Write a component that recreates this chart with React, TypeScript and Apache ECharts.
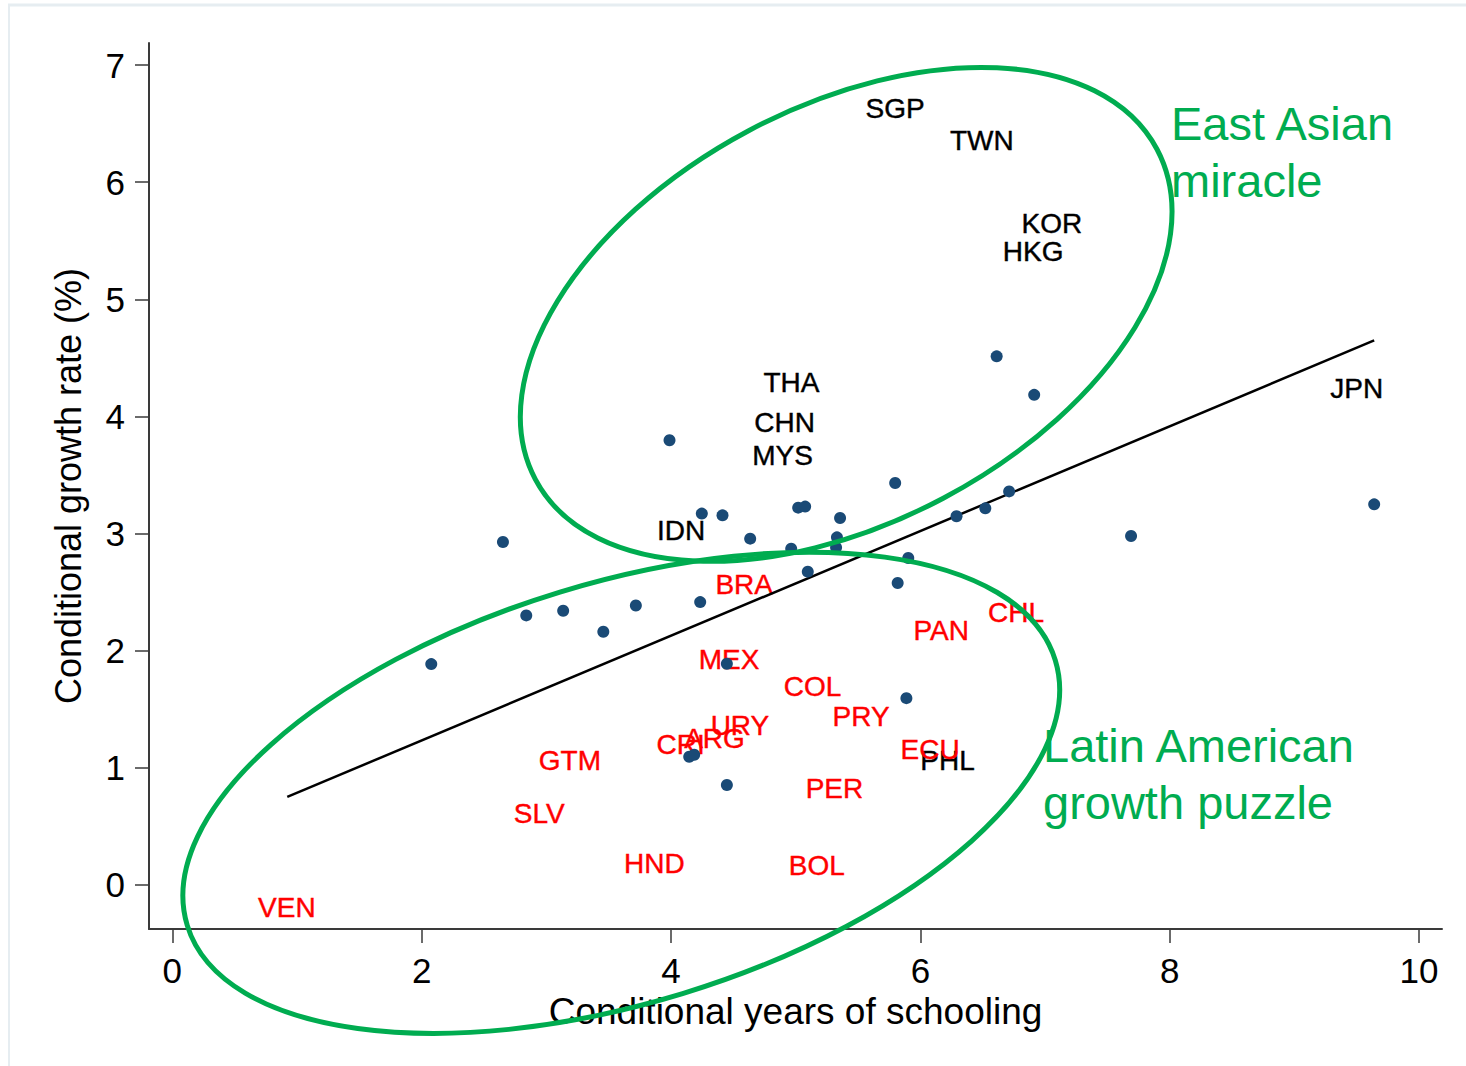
import React, { useEffect, useRef } from "react";
import * as echarts from "echarts";

// ---- tick labels ----
const xTicks = [0, 2, 4, 6, 8, 10];
const yTicks = [0, 1, 2, 3, 4, 5, 6, 7];

// ---- unlabelled country dots ----
const dotX = [2.077, 2.652, 2.839, 3.135, 3.457, 3.718, 3.988, 4.234, 4.247, 4.413, 4.635, 4.448, 4.146, 4.186, 4.448, 4.964, 5.02, 5.076, 5.097, 5.331, 5.324, 5.356, 5.798, 5.903, 5.818, 5.888, 6.29, 6.521, 6.712, 6.612, 6.913, 7.69, 9.64];
const dotY = [1.882, 2.926, 2.298, 2.338, 2.158, 2.383, 3.795, 2.412, 3.168, 3.153, 2.954, 1.885, 1.09, 1.107, 0.849, 2.868, 3.219, 3.228, 2.672, 2.965, 2.879, 3.131, 3.43, 2.789, 2.575, 1.591, 3.145, 3.213, 3.358, 4.512, 4.183, 2.977, 3.247];

// ---- black labels ----
const blackCodes = ["SGP", "TWN", "KOR", "HKG", "THA", "CHN", "MYS", "IDN", "JPN", "PHL"];
const blackX = [5.798, 6.493, 7.055, 6.905, 4.966, 4.911, 4.894, 4.08, 9.5, 6.218];
const blackY = [6.63, 6.356, 5.648, 5.409, 4.286, 3.946, 3.661, 3.02, 4.24, 1.061];

// ---- red labels (Latin America) ----
const redCodes = ["BRA", "PAN", "CHL", "MEX", "COL", "PRY", "URY", "ARG", "CRI", "ECU", "GTM", "PER", "SLV", "HND", "BOL", "VEN"];
const redX = [4.587, 6.167, 6.768, 4.466, 5.135, 5.525, 4.553, 4.349, 4.077, 6.078, 3.189, 5.311, 2.943, 3.866, 5.17, 0.919];
const redY = [2.563, 2.173, 2.327, 1.921, 1.694, 1.434, 1.36, 1.243, 1.194, 1.155, 1.055, 0.815, 0.601, 0.174, 0.159, -0.194];

// ---- fitted line ----
const fitX = [0.922, 9.64];
const fitY = [0.747, 4.648];

// ---- annotations ----
const GREEN = "#00AC50";
const FONT = "'Liberation Sans', Arial, Helvetica, sans-serif";
const ELLIPSES = [
  { center: [5.405, 4.871], rx: 352, ry: 208, rot: 28 },
  { center: [3.601, 0.782], rx: 454, ry: 210, rot: 17 },
];

const labelSeries = (codes: string[], xs: number[], ys: number[], color: string) => ({
  type: "scatter",
  symbolSize: 0.1,
  itemStyle: { color: "rgba(0,0,0,0)" },
  z: 1,
  data: codes.map((c, i) => ({ name: c, value: [xs[i], ys[i]] })),
  label: {
    show: true,
    position: "inside",
    formatter: (p: any) => p.name,
    color,
    opacity: 1,
    fontSize: 28,
    fontFamily: FONT,
    textBorderColor: color,
    textBorderWidth: 0.4,
    align: "center",
    verticalAlign: "middle",
  },
  emphasis: { disabled: true },
});

export default function App() {
  const ref = useRef<HTMLDivElement>(null);
  useEffect(() => {
    document.body.style.margin = "0";
    const chart = echarts.init(ref.current!, null, { renderer: "svg", width: 1466, height: 1066 });
    const axisColor = "#3a3a3a";
    chart.setOption({
      animation: false,
      backgroundColor: "#fff",
      textStyle: { fontFamily: FONT },
      grid: { left: 149, right: 24, top: 43, bottom: 137, containLabel: false },
      xAxis: {
        type: "value",
        min: -0.187,
        max: 10.184,
        splitLine: { show: false },
        axisLine: { show: true, onZero: false, lineStyle: { color: axisColor, width: 2 } },
        axisTick: { show: true, length: 14, customValues: xTicks, lineStyle: { color: axisColor, width: 1.5 } },
        axisLabel: { customValues: xTicks, fontSize: 35, color: "#000", margin: 24, fontFamily: FONT },
        name: "Conditional years of schooling",
        nameLocation: "middle",
        nameGap: 62,
        nameTextStyle: { fontSize: 37, color: "#000", fontFamily: FONT },
      },
      yAxis: {
        type: "value",
        min: -0.382,
        max: 7.19,
        splitLine: { show: false },
        axisLine: { show: true, onZero: false, lineStyle: { color: axisColor, width: 2 } },
        axisTick: { show: true, length: 14, customValues: yTicks, lineStyle: { color: axisColor, width: 1.5 } },
        axisLabel: { customValues: yTicks, fontSize: 35, color: "#000", margin: 24, fontFamily: FONT },
        name: "Conditional growth rate (%)",
        nameLocation: "middle",
        nameGap: 63,
        nameRotate: 90,
        nameTextStyle: { fontSize: 36, color: "#000", fontFamily: FONT },
      },
      series: [
        labelSeries(blackCodes, blackX, blackY, "#000"),
        labelSeries(redCodes, redX, redY, "#ff0000"),
        {
          type: "line",
          data: fitX.map((x, i) => [x, fitY[i]]),
          symbol: "none",
          lineStyle: { color: "#000", width: 2.5 },
          z: 2,
          emphasis: { disabled: true },
        },
        {
          type: "scatter",
          data: dotX.map((x, i) => [x, dotY[i]]),
          symbol: "circle",
          symbolSize: 12,
          itemStyle: { color: "#1a4a76", opacity: 1 },
          z: 3,
          emphasis: { disabled: true },
        },
      ],
    });

    const ell = ELLIPSES.map((e) => {
      const p = chart.convertToPixel({ seriesIndex: 0 }, e.center) as number[];
      return {
        type: "ellipse",
        x: p[0],
        y: p[1],
        rotation: (e.rot * Math.PI) / 180,
        shape: { cx: 0, cy: 0, rx: e.rx, ry: e.ry },
        style: { fill: "none", stroke: GREEN, lineWidth: 5 },
        z: 100,
        silent: true,
      };
    });
    const txt = (text: string, x: number, y: number) => ({
      type: "text",
      x,
      y,
      z: 101,
      silent: true,
      style: {
        text,
        fill: GREEN,
        fontSize: 47,
        fontFamily: FONT,
        align: "left",
        verticalAlign: "middle",
        textAlign: "left",
        textVerticalAlign: "middle",
      },
    });
    chart.setOption({
      graphic: [
        { type: "line", shape: { x1: 8, y1: 5, x2: 1466, y2: 5 }, style: { stroke: "#e6edf1", lineWidth: 3 }, silent: true },
        { type: "line", shape: { x1: 9, y1: 5, x2: 9, y2: 1066 }, style: { stroke: "#e6edf1", lineWidth: 2 }, silent: true },
        ...ell,
        txt("East Asian", 1171, 123),
        txt("miracle", 1171, 180),
        txt("Latin American", 1043, 745),
        txt("growth puzzle", 1043, 802),
      ],
    });
    return () => chart.dispose();
  }, []);
  return (
    <div
      ref={ref}
      style={{ position: "absolute", left: 0, top: 0, width: 1466, height: 1066, background: "#fff" }}
    />
  );
}
